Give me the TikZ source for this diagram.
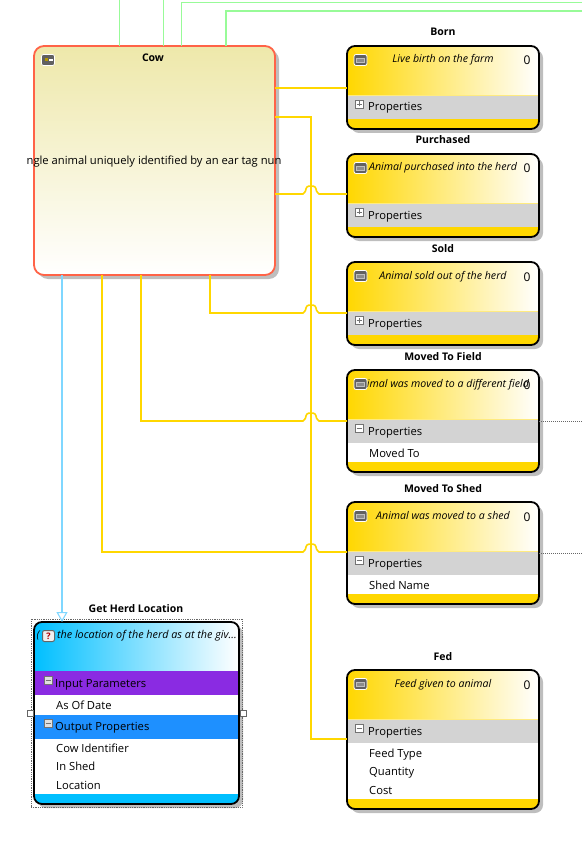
\documentclass[tikz,border=0pt]{standalone}
\usepackage{fontspec}
\setmainfont{Open Sans}
\usetikzlibrary{calc,positioning,arrows.meta,shadows}
\definecolor{evgold}{HTML}{FFD700}
\definecolor{evgray}{HTML}{D3D3D3}
\definecolor{qrcyan}{HTML}{00BFFF}
\definecolor{qrpurple}{HTML}{8A2BE2}
\definecolor{qrblue}{HTML}{1E90FF}
\definecolor{cowtan}{HTML}{EEE8AA}
\definecolor{cowedge}{HTML}{FF6347}
\definecolor{shadowgray}{HTML}{BEBEBE}
\definecolor{linkgreen}{HTML}{98FB98}
\definecolor{linkblue}{HTML}{7FD7FF}
\tikzset{
  cardbox/.style={rectangle,rounded corners=8pt,inner sep=0pt,outer sep=0pt,
    drop shadow={shadow xshift=4pt,shadow yshift=-4pt,fill=shadowgray,opacity=1}},
  cardedge/.style={rounded corners=8pt,draw=black,line width=1.8pt},
  cardtitle/.style={font=\fontsize{10.5}{12}\selectfont\bfseries,inner sep=0pt,anchor=base},
  carddesc/.style={font=\fontsize{10.6}{12}\selectfont\itshape,inner sep=0pt,anchor=base},
  cardtext/.style={font=\fontsize{11.2}{14}\selectfont,inner sep=0pt,anchor=base west},
  seqno/.style={font=\fontsize{12}{14}\selectfont,inner sep=0pt,anchor=base},
  badge/.style={draw=white,line width=0.8pt,fill=black!62,rounded corners=2pt,minimum width=13pt,minimum height=11pt,inner sep=0pt},
  qbadge/.style={draw=black!60,line width=1pt,fill=black!6,rounded corners=2pt,minimum width=12pt,minimum height=11pt,inner sep=0pt,
    font=\fontsize{9}{9}\selectfont\bfseries,text=red!70!black},
  expander/.style={draw=black!55,fill=white,minimum size=8pt,inner sep=0pt,line width=0.5pt},
  minusbox/.style={expander,path picture={\draw[line width=0.9pt] ([xshift=-2.5pt]path picture bounding box.center) -- ([xshift=2.5pt]path picture bounding box.center);}},
  plusbox/.style={expander,path picture={\draw[line width=0.9pt]
    ([xshift=-2.5pt]path picture bounding box.center) -- ([xshift=2.5pt]path picture bounding box.center)
    ([yshift=-2.5pt]path picture bounding box.center) -- ([yshift=2.5pt]path picture bounding box.center);}},
  grip/.style={draw=black!60,fill=white,minimum size=6pt,inner sep=0pt,line width=0.5pt},
  eventlink/.style={draw=evgold,line width=1.6pt},
  greenlink/.style={draw=linkgreen,line width=1.2pt},
  dotlink/.style={draw=black!60,line width=1pt,densely dotted},
  hop/.style={insert path={.. controls +(1.5,0) and +(-1,0.5) .. ++(2.5,-3)
    .. controls +(0.8,-3.5) and +(-4.5,0) .. ++(5.5,-5)
    .. controls +(4.5,0) and +(-0.8,-3.5) .. ++(5.5,5)
    .. controls +(1,0.5) and +(-1.5,0) .. ++(2.5,3)}}
}
\begin{document}
\begin{tikzpicture}[x=1pt,y=-1pt]
  \useasboundingbox (0,0) rectangle (582,842);
  % entity
  \node[cardbox,rounded corners=10pt,minimum width=241pt,minimum height=229pt,top color=cowtan,bottom color=white,draw=cowedge,line width=1.8pt] (cow) at (154.5,160.5) {};
  \node[cardtitle] (cowtitle) at (153,62) {Cow};
  \node[font=\fontsize{11.2}{13}\selectfont,inner sep=0pt,anchor=base] (cowdesc) at (154,164.5) {ngle animal uniquely identified by an ear tag nun};
  \node[badge] (cowbadge) at (48,60) {};
  \fill[evgold!70!black] (44.5,58.5) rectangle (47.5,61.5);
  \fill[white] (49,59) rectangle (53,61);
  % event cards
  \foreach \name/\top/\bot/\title/\desc/\dx/\sign in {
    born/46/129/Born/Live birth on the farm/0/plusbox,
    purchased/154/237/Purchased/Animal purchased into the herd/0/plusbox,
    sold/262/345/Sold/Animal sold out of the herd/0/plusbox,
    tofield/370/472/Moved To Field/imal was moved to a different field/5/minusbox,
    toshed/502/604/Moved To Shed/Animal was moved to a shed/0/minusbox,
    fed/670/809/Fed/Feed given to animal/0/minusbox}
  {
    \node[cardbox,fill=evgold,minimum width=192pt,minimum height={(\bot-\top)*1pt}] (\name) at (443,{(\top+\bot)/2}) {};
    \begin{scope}
      \clip[rounded corners=8pt] (347,\top) rectangle (539,\bot);
      \shade[left color=evgold,right color=white] (347,\top) rectangle (539,\top+49);
      \fill[white] (347,\top+72) rectangle (539,\bot-10);
      \fill[evgray] (347,\top+49) rectangle (539,\top+73);
      \draw[evgold!50,line width=0.8pt] (347,\top+49) -- (539,\top+49);
    \end{scope}
    \draw[cardedge] (347,\top) rectangle (539,\bot);
    \node[cardtitle] (\name title) at (443,\top-10) {\title};
    \node[carddesc] (\name desc) at (443+\dx,\top+17) {\desc};
    \node[seqno] (\name seq) at (527,\top+19) {0};
    \node[badge] (\name badge) at (360.5,\top+14) {};
    \draw[black!25,fill=black!45,line width=0.7pt] (356.5,\top+12) rectangle (364.5,\top+16);
    \node[\sign] (\name sign) at (359,\top+58) {};
    \node[cardtext] (\name props) at (368,\top+65) {Properties};
  }
  \node[cardtext] (movedto) at (369,457) {Moved To};
  \node[cardtext] (shedname) at (369,589) {Shed Name};
  \node[cardtext] (feedtype) at (369,757) {Feed Type};
  \node[cardtext] (quantity) at (369,775) {Quantity};
  \node[cardtext] (cost) at (369,794) {Cost};
  % query
  \node[cardbox,fill=qrcyan,minimum width=205pt,minimum height=182pt] (herd) at (136.5,713) {};
  \begin{scope}
    \clip[rounded corners=8pt] (34,622) rectangle (239,804);
    \shade[left color=qrcyan,right color=white] (34,622) rectangle (239,671);
    \fill[qrpurple] (34,671) rectangle (239,695);
    \fill[white] (34,695) rectangle (239,715);
    \fill[qrblue] (34,715) rectangle (239,739);
    \fill[white] (34,739) rectangle (239,794);
  \end{scope}
  \draw[cardedge] (34,622) rectangle (239,804);
  \node[draw=black!60,densely dotted,line width=0.8pt,minimum width=211pt,minimum height=188pt,inner sep=0pt] (herdsel) at (136.5,713) {};
  \node[grip] (gripleft) at (30,713) {};
  \node[grip] (gripright) at (243,713) {};
  \node[cardtitle] (herdtitle) at (136,612) {Get Herd Location};
  \node[carddesc,font=\fontsize{10.8}{12}\selectfont\itshape,anchor=base east] (herddesc) at (237,638) {(\hspace{14.5pt} the location of the herd as at the giv...};
  \node[qbadge] (herdbadge) at (48.5,636) {?};
  \node[minusbox,fill=black!12] (inputsign) at (48,680.5) {};
  \node[minusbox,fill=black!12] (outputsign) at (48,723.5) {};
  \node[cardtext] (inputs) at (55,687) {Input Parameters};
  \node[cardtext] (asof) at (56,709) {As Of Date};
  \node[cardtext] (outputs) at (55,730) {Output Properties};
  \node[cardtext] (cowid) at (56,752) {Cow Identifier};
  \node[cardtext] (inshed) at (56,770) {In Shed};
  \node[cardtext] (location) at (56,789) {Location};
  % links
  \coordinate (greenA) at (119.5,0);
  \coordinate (greenB) at (163.5,0);
  \coordinate (greenC) at (582,2.5);
  \coordinate (greenD) at (582,11);
  \coordinate (dotA) at (582,421);
  \coordinate (dotB) at (582,553);
  \draw[greenlink] (greenA) -- (greenA |- cow.north);
  \draw[greenlink] (greenB) -- (greenB |- cow.north);
  \draw[greenlink] (greenC) -| (181.5,0 |- cow.north);
  \draw[greenlink,line width=1.6pt] (greenD) -| (226,0 |- cow.north);
  \draw[eventlink] (cow.east |- 0,88) -- (born.west |- 0,88);
  \draw[eventlink] (cow.east |- 0,117) -| (311,739) -- (fed.west |- 0,739);
  \draw[eventlink] (cow.east |- 0,194) -- (303,194) [hop] -- (purchased.west |- 0,194);
  \draw[eventlink] (210,0 |- cow.south) |- (303,313) [hop] -- (sold.west |- 0,313);
  \draw[eventlink] (141,0 |- cow.south) |- (303,421) [hop] -- (tofield.west |- 0,421);
  \draw[eventlink] (102,0 |- cow.south) |- (303,552) [hop] -- (toshed.west |- 0,552);
  \draw[dotlink] (tofield.east |- dotA) -- (dotA);
  \draw[dotlink] (toshed.east |- dotB) -- (dotB);
  \draw[draw=linkblue,line width=1.6pt,-{Triangle[open,length=10pt,width=11pt,fill=white,line width=1.1pt]}] (62,0 |- cow.south) -- (62,0 |- herd.north);
\end{tikzpicture}
\end{document}
